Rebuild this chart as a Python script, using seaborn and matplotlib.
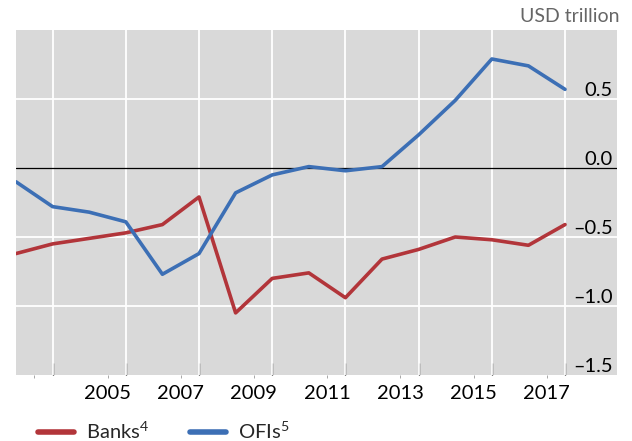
import matplotlib
matplotlib.use("Agg")
import matplotlib.pyplot as plt
import matplotlib.ticker as mticker
import pandas as pd
import seaborn as sns

## Data ##
years = list(range(2002, 2018))
banks = [-0.62, -0.55, -0.51, -0.47, -0.41, -0.21, -1.05, -0.80,
         -0.76, -0.94, -0.66, -0.59, -0.50, -0.52, -0.56, -0.41]
ofis = [-0.10, -0.28, -0.32, -0.39, -0.77, -0.62, -0.18, -0.05,
        0.01, -0.02, 0.01, 0.24, 0.49, 0.79, 0.74, 0.57]
series_names = ["Banks$^{4}$", "OFIs$^{5}$"]
label_years = [2005, 2007, 2009, 2011, 2013, 2015, 2017]
grid_years = [2003, 2005, 2007, 2009, 2011, 2013, 2015, 2017]
y_ticks = [-1.5, -1.0, -0.5, 0.0, 0.5]
y_labels = ["\u20131.5", "\u20131.0", "\u20130.5", "0.0", "0.5"]

df = pd.DataFrame({"year": years * 2,
                   "value": banks + ofis,
                   "series": [series_names[0]] * len(years) + [series_names[1]] * len(years)})

sns.set_theme(style="white")
plt.rcParams["font.family"] = ["Lato", "DejaVu Sans"]
plt.rcParams["mathtext.fontset"] = "custom"
plt.rcParams["mathtext.rm"] = "Lato"
plt.rcParams["mathtext.default"] = "regular"

red = "#B2353A"
blue = "#3C6FB5"

fig = plt.figure(figsize=(6.32, 4.41), dpi=100)
ax = fig.add_axes([16/632, 66/441, 601/632, 345/441])
ax.set_facecolor("#D9D9D9")

sns.lineplot(data=df, x="year", y="value", hue="series",
             palette=[red, blue], linewidth=2.6, ax=ax, legend=False, zorder=3)

ax.set_xlim(2002, 2018.42)
ax.set_ylim(-1.5, 1.0)

# gridlines
for g in grid_years:
    ax.axvline(g, color="white", lw=1.3, zorder=1)
for v in [0.5, -0.5, -1.0]:
    ax.axhline(v, color="white", lw=1.3, zorder=1)
ax.axhline(0, color="black", lw=0.9, zorder=2)

for s in ax.spines.values():
    s.set_visible(False)

# x ticks: major ticks inside at gridlines, labels on minor ticks
ax.xaxis.set_major_locator(mticker.FixedLocator(grid_years))
ax.xaxis.set_major_formatter(mticker.NullFormatter())
minor_pos = [2002.5] + [y - 0.5 for y in label_years]
ax.xaxis.set_minor_locator(mticker.FixedLocator(minor_pos))
ax.xaxis.set_minor_formatter(mticker.FixedFormatter([""] + [str(y) for y in label_years]))
ax.tick_params(axis="x", which="major", direction="in", length=9, width=0.9,
               color="black", bottom=True)
ax.tick_params(axis="x", which="minor", direction="out", length=2, width=0.6,
               color="#999999", bottom=True, labelsize=14.5, pad=5,
               labelcolor="black")

# y labels inside the plot, right aligned above gridlines
ax.yaxis.set_ticks_position("right")
ax.set_yticks(y_ticks)
ax.set_yticklabels(y_labels)
ax.tick_params(axis="y", length=0, pad=-3, labelsize=14.5, labelcolor="black")
for lab in ax.get_yticklabels():
    lab.set_horizontalalignment("right")
    lab.set_verticalalignment("bottom")

ax.set_xlabel("")
ax.set_ylabel("")

fig.text(620/632, 1 - 17/441, "USD trillion", ha="right", va="center",
         fontsize=14, color="#666666")

handles = [plt.Line2D([], [], color=red, lw=4),
           plt.Line2D([], [], color=blue, lw=4)]
fig.legend(handles, series_names, loc="center left",
           bbox_to_anchor=(38/632, 10/441), ncol=2, frameon=False,
           fontsize=14.5, handlelength=1.8, handletextpad=0.6,
           columnspacing=2.0, borderpad=0, borderaxespad=0)

fig.savefig("out.png", dpi=100)
